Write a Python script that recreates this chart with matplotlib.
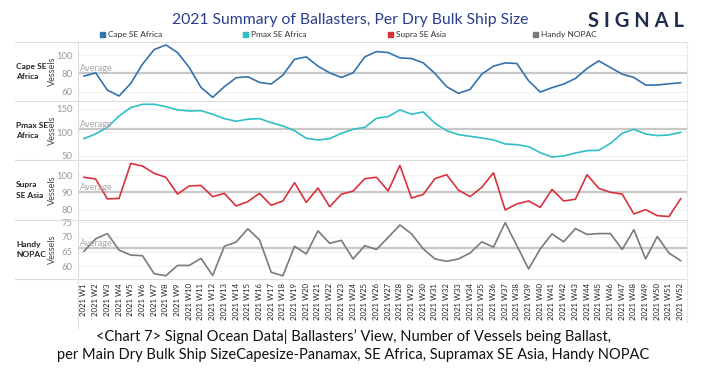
import numpy as np
import matplotlib
matplotlib.use("Agg")
import matplotlib.pyplot as plt
from matplotlib.lines import Line2D

plt.rcParams['font.family'] = ['Lato', 'DejaVu Sans']

weeks = [f'2021 W{i}' for i in range(1, 53)]

cape = [77.1, 80.7, 61.8, 55.3, 69.1, 90.2, 106.2, 111.3, 102.9, 86.5,
        64.7, 53.8, 65.5, 75.3, 76.4, 70.2, 68.4, 78.2, 95.6, 98.2,
        88.0, 80.7, 75.6, 80.7, 98.2, 104.0, 102.9, 97.1, 96.4, 91.6,
        80.0, 65.5, 58.2, 62.5, 79.3, 88.0, 91.6, 90.9, 72.0, 59.6,
        64.4, 68.4, 74.5, 85.5, 93.8, 86.5, 79.3, 75.6, 67.3, 67.3,
        68.7, 69.8]
pmax = [86.4, 96.4, 110.7, 135.0, 152.9, 160.0, 160.0, 155.0, 147.9, 145.7,
        146.4, 138.6, 129.3, 123.6, 127.9, 129.3, 120.7, 113.6, 103.6, 87.1,
        83.6, 86.4, 97.9, 106.4, 110.7, 130.0, 133.6, 147.9, 138.6, 143.6,
        119.3, 103.6, 95.0, 91.4, 87.9, 83.6, 75.0, 73.6, 69.3, 56.4,
        47.1, 49.3, 55.7, 60.7, 61.4, 76.4, 97.9, 106.4, 96.4, 92.9,
        94.3, 100.0]
supra = [98.7, 97.7, 86.2, 86.5, 106.7, 105.2, 101.0, 98.7, 89.0, 93.7,
         94.0, 87.5, 89.4, 82.1, 84.6, 89.4, 82.5, 85.0, 95.6, 84.2,
         92.5, 81.7, 88.9, 90.7, 97.9, 98.7, 90.8, 105.6, 86.7, 88.8,
         97.9, 100.2, 91.3, 87.5, 92.9, 101.3, 79.8, 83.3, 85.0, 81.3,
         91.7, 85.0, 86.0, 100.2, 92.3, 90.0, 89.0, 77.5, 80.0, 76.5,
         76.0, 86.3]
handy = [65.1, 69.3, 71.1, 65.5, 63.8, 63.6, 57.5, 56.8, 60.3, 60.3,
         62.7, 56.9, 66.8, 68.2, 72.7, 69.0, 58.0, 56.8, 66.8, 64.2,
         72.0, 67.8, 68.8, 62.5, 67.0, 65.7, 69.8, 74.0, 71.0, 65.9,
         62.5, 61.7, 62.5, 64.5, 68.3, 66.5, 74.8, 67.0, 59.1, 65.9,
         71.0, 68.3, 72.8, 70.8, 71.1, 71.1, 65.7, 72.4, 62.5, 70.1,
         64.5, 61.9]

series_names = ['Cape SE Africa', 'Pmax SE Africa', 'Supra SE Asia', 'Handy NOPAC']
row_labels = ['Cape SE\nAfrica', 'Pmax SE\nAfrica', 'Supra\nSE Asia', 'Handy\nNOPAC']
averages = [80.0, 107.9, 90.4, 66.1]
yticks = [[60, 80, 100], [50, 100, 150], [80, 90, 100], [60, 65, 70, 75]]

colors = ['#3273ad', '#2fbfc6', '#d8323c', '#7a7a7a']
ylims = [(49.8, 114.5), (40.7, 167), (74, 108.7), (55.7, 75.7)]
panels_px = [(42, 101), (101, 160), (160, 220), (220, 279)]

W, H = 706, 372
fig = plt.figure(figsize=(W / 100, H / 100), dpi=100)

x = np.arange(len(weeks))
data = [cape, pmax, supra, handy]
LEFT, RIGHT = 78, 687
GRID = '#dcdcdc'

for i, (vals, (top, bot)) in enumerate(zip(data, panels_px)):
    ax = fig.add_axes([LEFT / W, 1 - bot / H, (RIGHT - LEFT) / W, (bot - top) / H])
    ax.plot(x, vals, color=colors[i], linewidth=1.2, zorder=3)
    ax.axhline(averages[i], color='#c8c8c8', linewidth=1.6, zorder=2)
    ax.text(0.004, averages[i], 'Average', transform=ax.get_yaxis_transform(),
            ha='left', va='bottom', fontsize=6.5, color='#a8a8a8', zorder=4)
    ax.set_xlim(-0.51, 51.54)
    ax.set_ylim(*ylims[i])
    ax.set_yticks(yticks[i])
    ax.yaxis.grid(True, color='#f1f1f1', linewidth=0.8, zorder=0)
    ax.set_axisbelow(True)
    ax.tick_params(axis='y', length=0, labelsize=6.8, labelcolor='#9a9a9a', pad=4)
    for s in ['top', 'right', 'bottom']:
        ax.spines[s].set_visible(False)
    ax.spines['left'].set_color(GRID)
    ax.spines['left'].set_linewidth(0.8)
    ax.set_ylabel('Vessels', fontsize=6.6, color='#444444')
    ax.yaxis.set_label_coords((57 - LEFT) / (RIGHT - LEFT), 0.5)
    fig.text(16 / W, 1 - (top + bot) / 2 / H, row_labels[i], ha='left', va='center',
             fontsize=6.0, color='#222222', fontweight='bold', linespacing=1.5)
    if i < 3:
        ax.set_xticks([])
    else:
        ax.set_xticks(x)
        ax.set_xticklabels(weeks, rotation=90, fontsize=5.6, color='#222222')
        ax.tick_params(axis='x', length=0, pad=3)

# row separators and borders
for yp in [42, 101, 160, 220, 279]:
    fig.add_artist(Line2D([15 / W, RIGHT / W], [1 - yp / H, 1 - yp / H],
                          color=GRID, linewidth=0.8))
fig.add_artist(Line2D([RIGHT / W, RIGHT / W], [1 - 42 / H, 1 - 322 / H],
                      color='#e8e8e8', linewidth=0.8))
fig.add_artist(Line2D([LEFT / W, LEFT / W], [1 - 279 / H, 1 - 328 / H],
                      color=GRID, linewidth=0.8))

# title and legend
fig.text(350 / W, 1 - 20 / H, '2021 Summary of Ballasters, Per Dry Bulk Ship Size',
         ha='center', va='center', fontsize=11.3, color='#2b3d8f')
leg_x = [100, 243, 388, 533]
for lx, name, c in zip(leg_x, series_names, colors):
    fig.patches.append(plt.Rectangle((lx / W, 1 - 37 / H), 5 / W, 5 / H,
                                     transform=fig.transFigure, color=c))
    fig.text((lx + 8) / W, 1 - 34.5 / H, name, ha='left', va='center',
             fontsize=6, color='#333333')

# logo
fig.text(636 / W, 1 - 21 / H, 'S I G N A L', ha='center', va='center', fontsize=14.5,
         color='#1f2d4e', fontweight='bold')

# caption
cap_font = ['Liberation Sans Narrow', 'Lato', 'DejaVu Sans']
fig.text(353 / W, 1 - 337 / H,
         "<Chart 7> Signal Ocean Data| Ballasters\u2019 View, Number of Vessels being Ballast,",
         ha='center', va='center', fontsize=10.5, color='#111111', family=cap_font)
fig.text(353 / W, 1 - 355 / H,
         "per Main Dry Bulk Ship SizeCapesize-Panamax, SE Africa, Supramax SE Asia, Handy NOPAC",
         ha='center', va='center', fontsize=10.5, color='#111111', family=cap_font)

fig.savefig('out.png', dpi=100)
